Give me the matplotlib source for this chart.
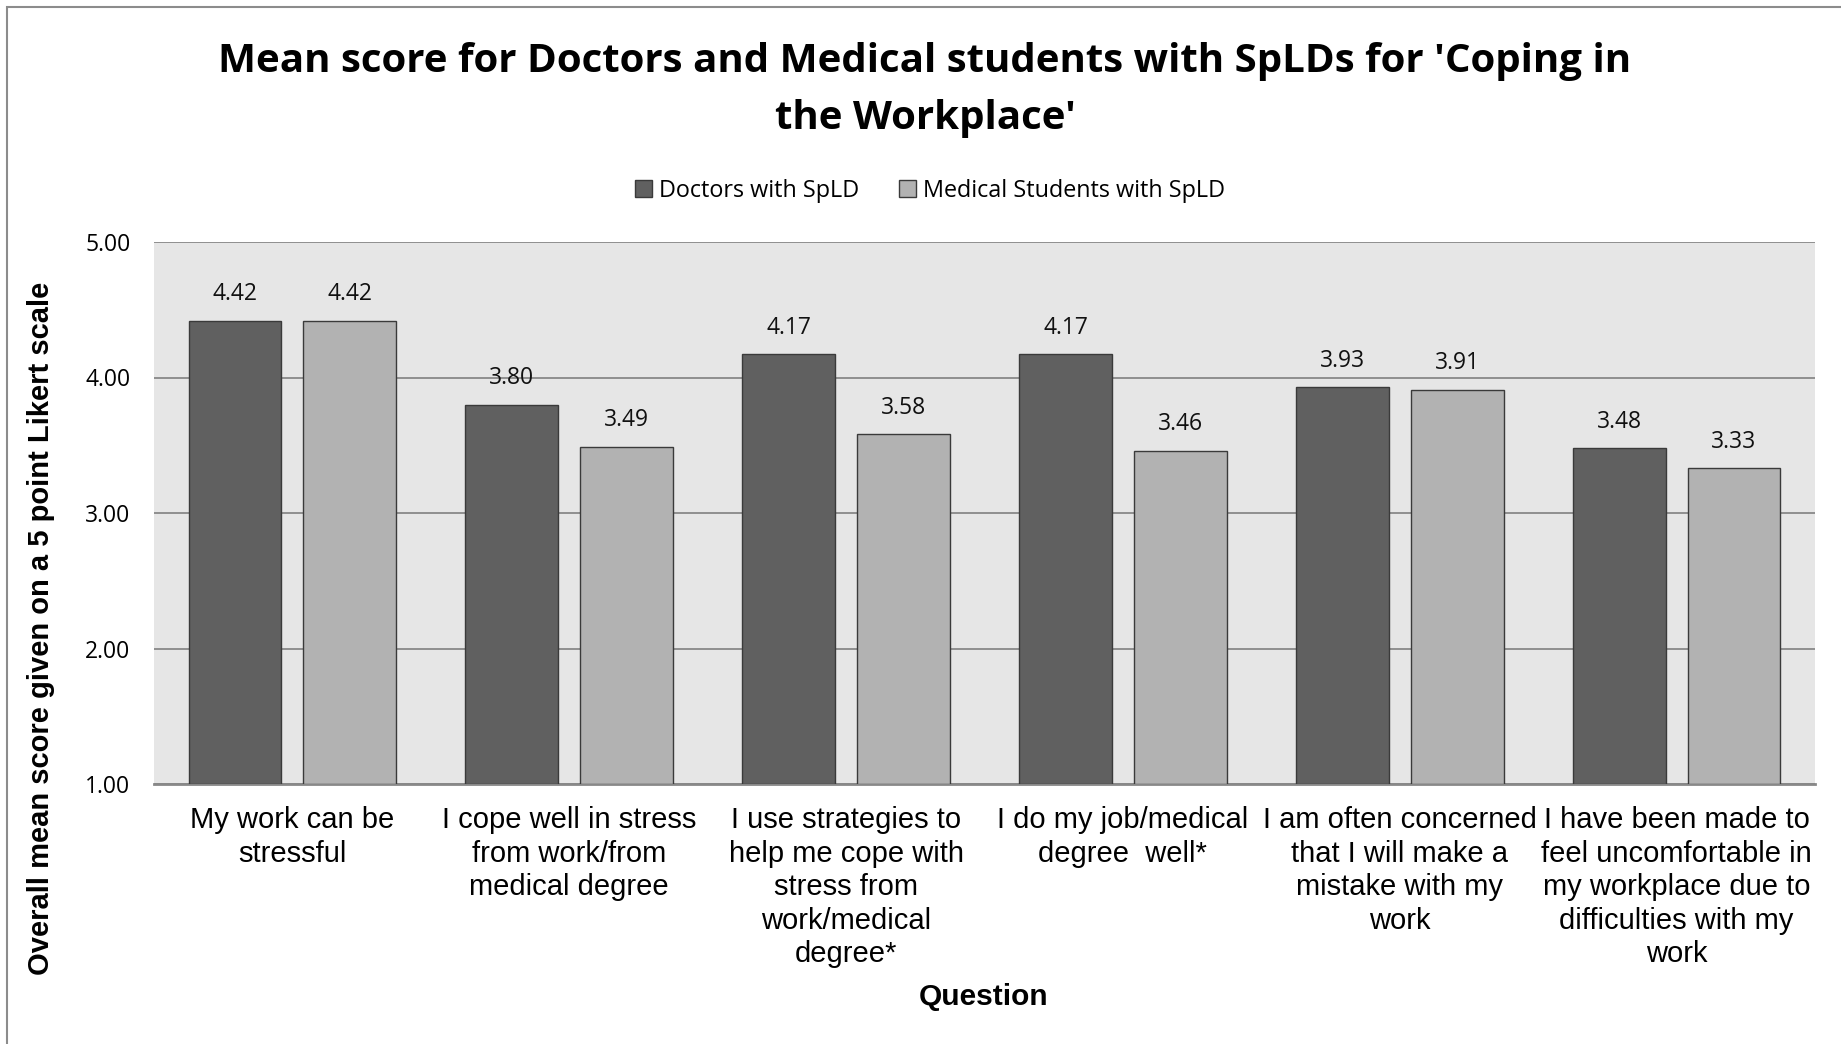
import numpy as np
import matplotlib
matplotlib.use("Agg")
import matplotlib.pyplot as plt
from matplotlib.patches import Rectangle

questions = [
    "My work can be\nstressful",
    "I cope well in stress\nfrom work/from\nmedical degree",
    "I use strategies to\nhelp me cope with\nstress from\nwork/medical\ndegree*",
    "I do my job/medical\ndegree  well*",
    "I am often concerned\nthat I will make a\nmistake with my\nwork",
    "I have been made to\nfeel uncomfortable in\nmy workplace due to\ndifficulties with my\nwork",
]
doctors = [4.42, 3.80, 4.17, 4.17, 3.93, 3.48]
students = [4.42, 3.49, 3.58, 3.46, 3.91, 3.33]
series_names = ["Doctors with SpLD", "Medical Students with SpLD"]
yticks = [1.0, 2.0, 3.0, 4.0, 5.0]

W, H = 1841, 1044
fig = plt.figure(figsize=(W / 100, H / 100), dpi=100)
fig.patch.set_facecolor("white")

# outer chart border
fig.patches.append(Rectangle((7 / W, -0.01), 1.05, 1 - 7 / H + 0.01, transform=fig.transFigure,
                             fill=False, edgecolor="#8c8c8c", linewidth=1.5))

ax = fig.add_axes([154 / W, 1 - 784 / H, (1815 - 154) / W, (784 - 242) / H])
ax.set_facecolor("#e6e6e6")

x = np.arange(len(questions))
bw = 0.335
off = 0.2075
dark = "#606060"
light = "#b2b2b2"
b1 = ax.bar(x - off, np.array(doctors) - 1, bw, bottom=1, color=dark, edgecolor="#3a3a3a", linewidth=1, zorder=3)
b2 = ax.bar(x + off, np.array(students) - 1, bw, bottom=1, color=light, edgecolor="#3a3a3a", linewidth=1, zorder=3)

lab_font = "Open Sans"
for xs, vals in ((x - off, doctors), (x + off, students)):
    for xi, v in zip(xs, vals):
        ax.annotate(f"{v:.2f}", (xi, v), xytext=(0, 19), textcoords="offset points",
                    ha="center", va="center", fontsize=16.5, family=lab_font, color="#111111")

ax.set_xlim(-0.5, len(questions) - 0.5)
ax.set_ylim(1, 5)
ax.set_yticks(yticks)
ax.set_yticklabels([f"{t:.2f}" for t in yticks], family=lab_font, fontsize=16.5)
ax.yaxis.grid(True, color="#888888", linewidth=1.3, zorder=1)
ax.set_axisbelow(True)
ax.tick_params(axis="y", length=0, pad=17)
ax.tick_params(axis="x", length=0, pad=16)
ax.set_xticks(x)
ax.set_xticklabels(questions, family="Liberation Sans", fontsize=21,
                   linespacing=1.25, va="top")
for s in ("top", "left", "right"):
    ax.spines[s].set_visible(False)
ax.spines["bottom"].set_color("#888888")
ax.spines["bottom"].set_linewidth(2)

fig.text(925 / W, 1 - 90 / H,
         "Mean score for Doctors and Medical students with SpLDs for 'Coping in\nthe Workplace'",
         ha="center", va="center", fontsize=29, fontweight="bold", family=lab_font, linespacing=1.6)

fig.text(41 / W, 1 - 628 / H, "Overall mean score given on a 5 point Likert scale",
         rotation=90, ha="center", va="center", fontsize=21, fontweight="bold", family="Liberation Sans")
fig.text(984 / W, 1 - 997 / H, "Question", ha="center", va="center", fontsize=21.5,
         fontweight="bold", family="Liberation Sans")

leg = fig.legend([b1, b2], series_names, loc="center", bbox_to_anchor=(930 / W, 1 - 191 / H),
                 ncol=2, frameon=False, prop={"family": lab_font, "size": 16.8},
                 handlelength=0.75, handleheight=0.75, handletextpad=0.3, columnspacing=1.7)

fig.savefig("out.png", dpi=100)
